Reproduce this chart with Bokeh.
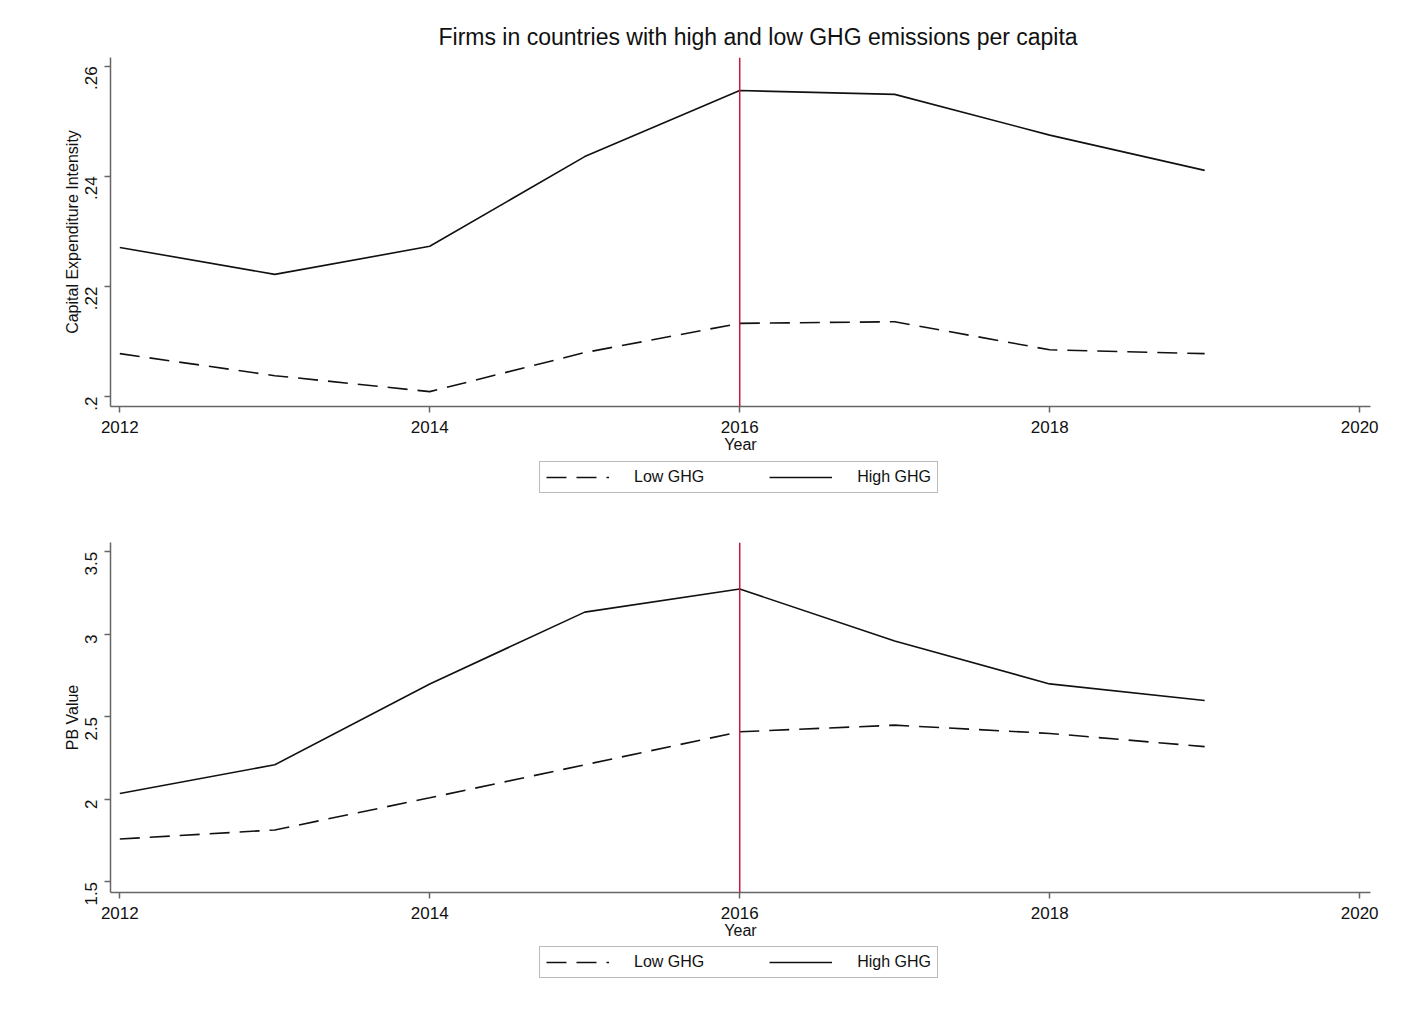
import math
from bokeh.plotting import figure
from bokeh.layouts import column
from bokeh.models import Legend, LegendItem, FixedTicker, Range1d, Span
from bokeh.embed import file_html
from bokeh.resources import INLINE

years = [2012, 2013, 2014, 2015, 2016, 2017, 2018, 2019]
capex_high = [0.2271, 0.2222, 0.2273, 0.2436, 0.2556, 0.2549, 0.2475, 0.2411]
capex_low = [0.2078, 0.2038, 0.2009, 0.2080, 0.2133, 0.2136, 0.2085, 0.2078]
pb_high = [2.036, 2.21, 2.70, 3.135, 3.275, 2.96, 2.70, 2.60]
pb_low = [1.76, 1.815, 2.01, 2.21, 2.41, 2.45, 2.40, 2.32]
x_ticks = [2012, 2014, 2016, 2018, 2020]
capex_ticks = [0.2, 0.22, 0.24, 0.26]
capex_labels = [".2", ".22", ".24", ".26"]
pb_ticks = [1.5, 2.0, 2.5, 3.0, 3.5]
pb_labels = ["1.5", "2", "2.5", "3", "3.5"]
series_names = ["Low GHG", "High GHG"]
event_year = 2016
title_text = "Firms in countries with high and low GHG emissions per capita"

FONT = "Liberation Sans"
AXIS_COLOR = "#666666"
LINE_COLOR = "#111111"
EVENT_COLOR = "#C8163F"
LOW_DASH = "20 10"
W = 1404


def make_panel(high, low, ticks, labels, ylabel, yrange, height, top, bottom, title=None):
    p = figure(width=W, height=height, output_backend="svg", toolbar_location=None,
               x_range=Range1d(2011.94, 2020.07), y_range=Range1d(*yrange),
               min_border_left=110, min_border_right=34, min_border_top=top,
               min_border_bottom=bottom)
    if title:
        p.title.text = title
        p.title.align = "left"
        p.title.offset = 328
        p.title.standoff = 15
        p.title.text_font = FONT
        p.title.text_font_size = "23px"
        p.title.text_font_style = "normal"
        p.title.text_color = "#111111"
    p.outline_line_color = None
    p.grid.visible = False
    p.background_fill_color = "white"
    p.border_fill_color = "white"

    p.add_layout(Span(location=event_year, dimension="height",
                      line_color=EVENT_COLOR, line_width=1.5))

    p.line(years, low, line_color=LINE_COLOR, line_width=1.6, line_dash=LOW_DASH)
    p.line(years, high, line_color=LINE_COLOR, line_width=1.6)

    p.xaxis.ticker = FixedTicker(ticks=x_ticks)
    p.xaxis.axis_label = "Year"
    p.yaxis.ticker = FixedTicker(ticks=ticks)
    p.yaxis.major_label_overrides = {t: l for t, l in zip(ticks, labels)}
    p.yaxis.axis_label = ylabel
    p.yaxis.major_label_orientation = math.pi / 2
    for ax in (p.xaxis, p.yaxis):
        ax.axis_line_color = AXIS_COLOR
        ax.axis_line_width = 1.5
        ax.major_tick_line_color = AXIS_COLOR
        ax.major_tick_line_width = 1.5
        ax.major_tick_out = 6
        ax.major_tick_in = 0
        ax.minor_tick_line_color = None
        ax.major_label_text_font = FONT
        ax.major_label_text_font_size = "17px"
        ax.major_label_text_color = "#111111"
        ax.axis_label_text_font = FONT
        ax.axis_label_text_font_size = "16px"
        ax.axis_label_text_font_style = "normal"
        ax.axis_label_text_color = "#111111"
    p.xaxis.major_label_standoff = 8
    p.xaxis.axis_label_standoff = 0
    p.yaxis.major_label_standoff = 13
    p.yaxis.axis_label_standoff = -4
    return p


def make_legend(height, y_loc, high, low):
    # The series are drawn outside this strip's view; only their legend glyphs show.
    q = figure(width=W, height=height, output_backend="svg", toolbar_location=None,
               x_range=Range1d(0, 1), y_range=Range1d(0, 1),
               x_axis_type=None, y_axis_type=None, min_border=0)
    q.outline_line_color = None
    q.grid.visible = False
    r_low = q.line(years, low, line_color=LINE_COLOR, line_width=1.6, line_dash=LOW_DASH)
    r_high = q.line(years, high, line_color=LINE_COLOR, line_width=1.6)
    legend = Legend(items=[LegendItem(label=series_names[0], renderers=[r_low]),
                           LegendItem(label=series_names[1], renderers=[r_high])],
                    orientation="horizontal", location=(429, y_loc),
                    label_text_font=FONT, label_text_font_size="16px",
                    label_text_color="#111111",
                    glyph_width=63, label_standoff=25, spacing=65,
                    padding=6, margin=0,
                    border_line_color="#777777", border_line_width=1.5,
                    label_height=16, glyph_height=16,
                    background_fill_color="white", background_fill_alpha=1.0)
    q.add_layout(legend)
    return q


p1 = make_panel(capex_high, capex_low, capex_ticks, capex_labels,
                "Capital Expenditure Intensity", (0.1982, 0.2616), 456, 57, 50,
                title=title_text)
l1 = make_legend(64, 27, capex_high, capex_low)
p2 = make_panel(pb_high, pb_low, pb_ticks, pb_labels,
                "PB Value", (1.436, 3.557), 422, 22, 50)
l2 = make_legend(90, 54, pb_high, pb_low)

layout = column(p1, l1, p2, l2, spacing=0)
open("out.html", "w").write(file_html(layout, INLINE))
